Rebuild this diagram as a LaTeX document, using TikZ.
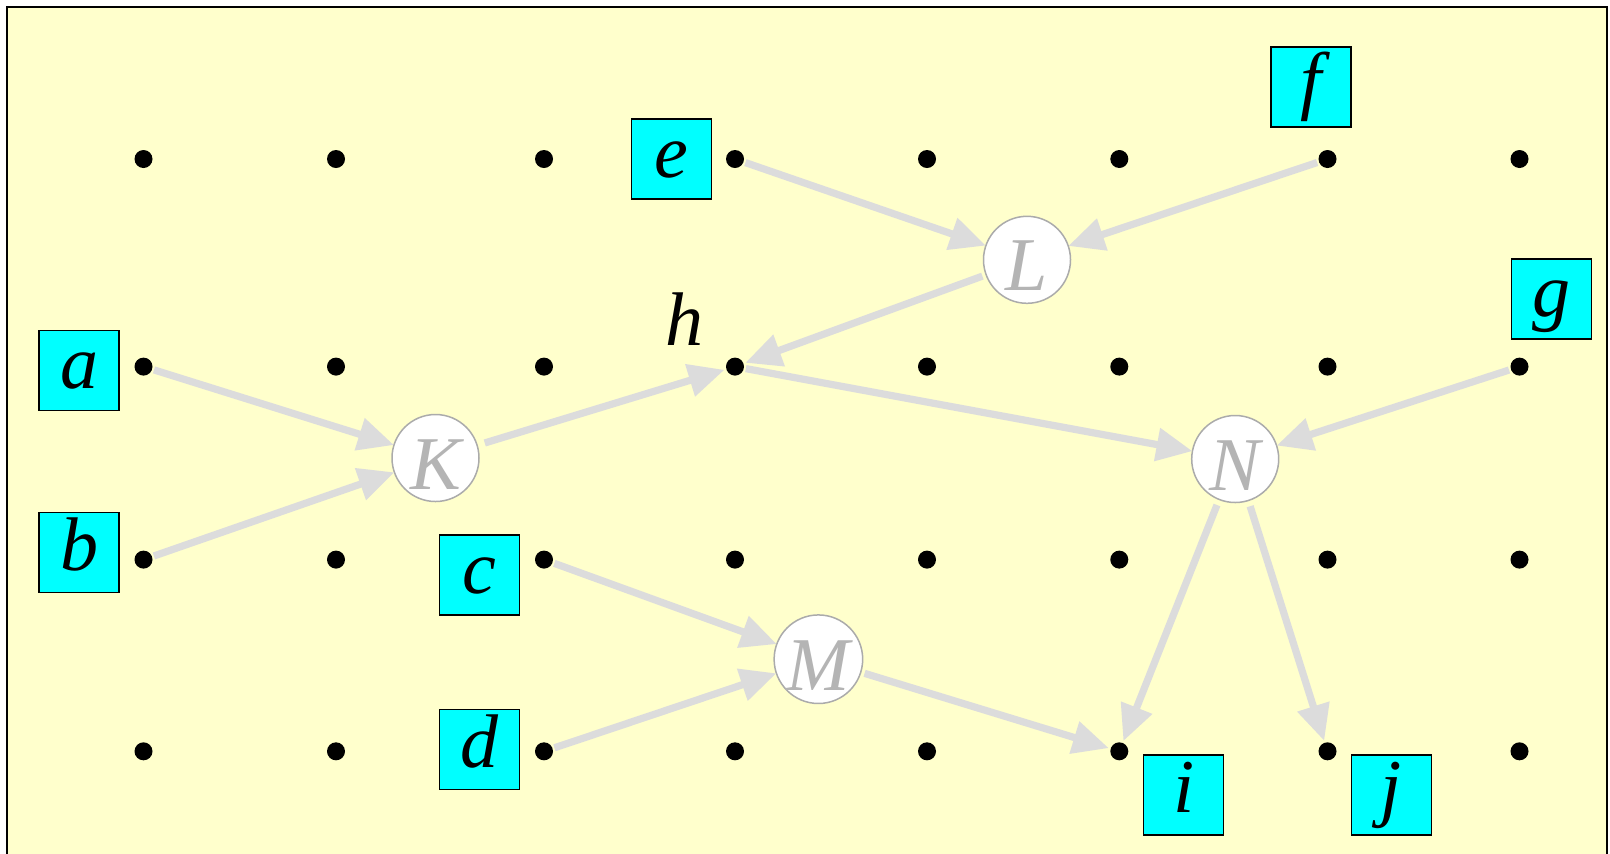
\documentclass[tikz,border=0pt]{standalone}
\usepackage{fontspec}
\setmainfont{Liberation Serif}[ItalicFont={Liberation Serif Italic}]
\usetikzlibrary{arrows.meta}
\definecolor{paper}{HTML}{FFFFCC}
\definecolor{boxcyan}{RGB}{0,255,255}
\definecolor{flowgray}{HTML}{DCDCDC}
\definecolor{opgray}{HTML}{ABABAB}
\definecolor{optext}{HTML}{B4B4B4}

\begin{document}
\begin{tikzpicture}[
  x=0.5pt, y=-0.5pt,
  font=\fontsize{38}{40}\selectfont\itshape,
  dot/.style={circle, fill=black, minimum size=9pt, inner sep=0pt, outer sep=1pt},
  lbl/.style={rectangle, draw=black, line width=0.75pt, fill=boxcyan, minimum size=40pt,
              inner sep=0pt, text height=29pt, text depth=11pt},
  op/.style={circle, draw=opgray, line width=0.75pt, fill=white, text=optext,
             minimum size=43.5pt, inner sep=0pt, outer sep=0pt, text height=31pt, text depth=0pt},
  flow/.style={-{Triangle[length=18pt,width=16pt]}, draw=flowgray, line width=3.6pt}
]
\useasboundingbox (0,0) rectangle (1610,853);
\clip (0,0) rectangle (1610,853);
\draw[fill=paper, line width=1pt] (7,7) rectangle (1607,900);

% grid of points
\foreach \x [count=\i] in {143.5,336,544,735,927,1119.3,1327.5,1519.5}
  \foreach \y [count=\j] in {159,366.6,559.6,751.3}
    \node[dot] (p\i\j) at (\x,\y) {};

% operators
\node[op] (K) at (435.5,458)   {K};
\node[op] (L) at (1027,259.8)  {L};
\node[op] (M) at (818.4,659.2) {M};
\node[op] (N) at (1235.2,459)  {N};

% labels
\node[lbl] (la) at (79,370.6)     {a};
\node[lbl] (lb) at (79,552.4)     {b};
\node[lbl] (lc) at (479.5,575)    {c};
\node[lbl] (ld) at (479.5,749.6)  {d};
\node[lbl] (le) at (671.5,159)    {e};
\node[lbl] (lf) at (1311,87)      {f};
\node[lbl] (lg) at (1551.5,298.8) {g};
\node[anchor=base] (lh) at (684,345) {h};
\node[lbl] (li) at (1183.7,794.8) {i};
\node[lbl] (lj) at (1391.3,794.8) {j};

\draw[flow] (p12) -- (K);
\draw[flow] (p13) -- (K);
\draw[flow, shorten <=4pt] (K) -- (p42);
\draw[flow] (p41) -- (L);
\draw[flow] (p71) -- (L);
\draw[flow, shorten <=2pt] (L) -- (p42);
\draw[flow] (p42) -- (N);
\draw[flow] (p82) -- (N);
\draw[flow] (p33) -- (M);
\draw[flow] (p34) -- (M);
\draw[flow, shorten <=2pt] (M) -- (p64);
\draw[flow, shorten <=3pt] (N) -- (p64);
\draw[flow, shorten <=3pt] (N) -- (p74);
\end{tikzpicture}
\end{document}
